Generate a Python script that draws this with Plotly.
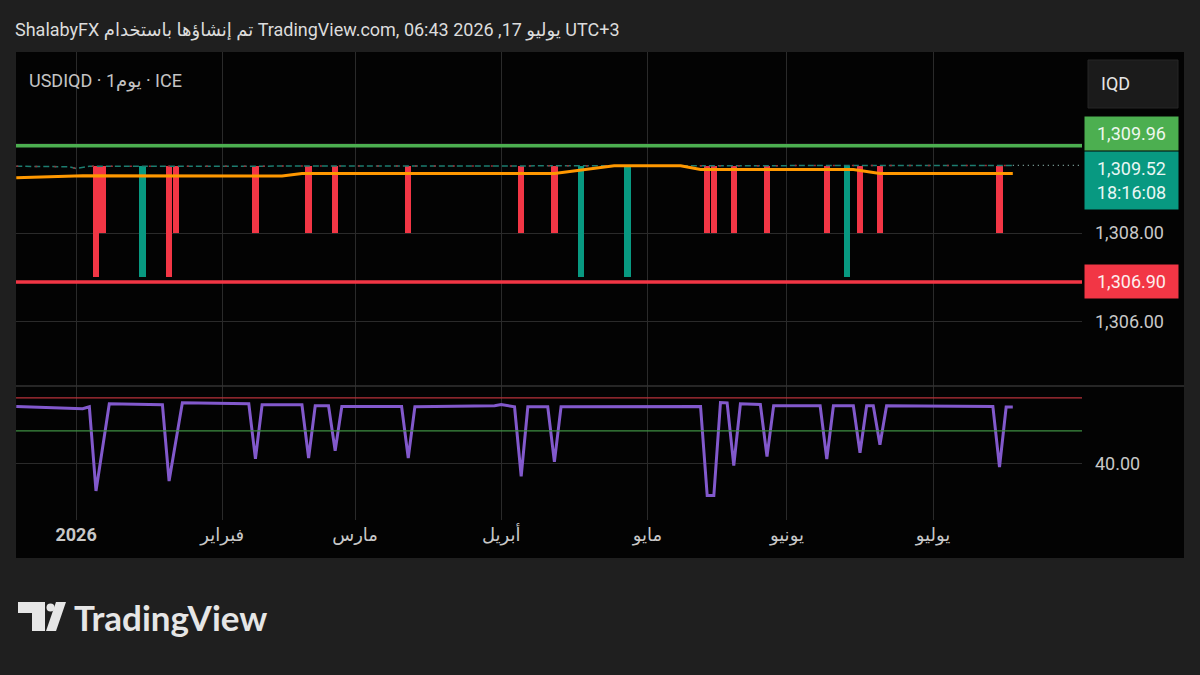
import pandas as pd
import plotly.graph_objects as go
from plotly.subplots import make_subplots

# ---- values ----
# candles that broke away from the ~1309.5 line
spike_dates = ["2026-01-06", "2026-01-07", "2026-01-15", "2026-01-21", "2026-01-22",
               "2026-02-09", "2026-02-19", "2026-02-25", "2026-03-12", "2026-04-06",
               "2026-04-13", "2026-04-17", "2026-04-28", "2026-05-14", "2026-05-15",
               "2026-05-20", "2026-05-27", "2026-06-09", "2026-06-12", "2026-06-16",
               "2026-06-19", "2026-07-15"]
spike_open = [1309.50, 1309.50, 1307.02, 1309.50, 1309.50,
              1309.50, 1309.50, 1309.50, 1309.50, 1309.50,
              1309.50, 1307.02, 1307.02, 1309.50, 1309.50,
              1309.50, 1309.50, 1309.50, 1307.02, 1309.50,
              1309.50, 1309.50]
spike_close = [1307.02, 1308.00, 1309.50, 1307.02, 1308.00,
               1308.00, 1308.00, 1308.00, 1308.00, 1308.00,
               1308.00, 1309.50, 1309.50, 1308.00, 1308.00,
               1308.00, 1308.00, 1308.00, 1309.50, 1308.00,
               1308.00, 1308.00]

# near-flat closes
close_dates = ["2025-12-19", "2025-12-31", "2026-01-01", "2026-01-05", "2026-07-17"]
close_vals = [1309.50, 1309.49, 1309.45, 1309.50, 1309.52]

# orange moving average
ma_dates = ["2025-12-19", "2026-01-02", "2026-02-13", "2026-02-18", "2026-04-13",
            "2026-04-24", "2026-05-08", "2026-05-13", "2026-06-15", "2026-06-19", "2026-07-17"]
ma_vals = [1309.24, 1309.29, 1309.28, 1309.34, 1309.34,
           1309.51, 1309.51, 1309.43, 1309.43, 1309.34, 1309.34]

# purple oscillator (lower pane)
rsi_dates = ["2025-12-19", "2026-01-02", "2026-01-05", "2026-01-06", "2026-01-08",
             "2026-01-20", "2026-01-21", "2026-01-23", "2026-02-06", "2026-02-09",
             "2026-02-10", "2026-02-18", "2026-02-19", "2026-02-20", "2026-02-24",
             "2026-02-25", "2026-02-26", "2026-03-11", "2026-03-12", "2026-03-13",
             "2026-03-31", "2026-04-01", "2026-04-03", "2026-04-06", "2026-04-07",
             "2026-04-10", "2026-04-13", "2026-04-14", "2026-05-13", "2026-05-14",
             "2026-05-15", "2026-05-18", "2026-05-19", "2026-05-20", "2026-05-21",
             "2026-05-26", "2026-05-27", "2026-05-28", "2026-06-08", "2026-06-09",
             "2026-06-10", "2026-06-15", "2026-06-16", "2026-06-17", "2026-06-18",
             "2026-06-19", "2026-06-22", "2026-07-14", "2026-07-15", "2026-07-16",
             "2026-07-17"]
rsi_vals = [57.4, 56.7, 57.3, 31.8, 58.2,
            57.9, 34.8, 58.5, 58.2, 41.5,
            57.9, 57.9, 41.8, 57.6, 57.6,
            44.0, 57.4, 57.4, 41.8, 57.3,
            57.6, 58.0, 57.3, 36.2, 57.3,
            57.3, 40.6, 57.3, 57.4, 30.4,
            30.4, 58.6, 58.5, 39.5, 58.2,
            58.0, 42.2, 57.6, 57.6, 41.5,
            57.6, 57.6, 43.4, 57.6, 57.6,
            45.8, 57.6, 57.4, 39.0, 57.2,
            57.2]

level_vals = [1309.96, 1306.90]
rsi_bands = [60, 50]
price_ticks = [1306, 1308]          # 1310 sits under the green label
price_grid = [1306, 1308, 1310]
month_ticks = ["2026-01-01", "2026-02-02", "2026-03-02", "2026-04-01",
               "2026-05-01", "2026-06-01", "2026-07-01"]
month_labels = ["<b>2026</b>", "فبراير", "مارس", "أبريل", "مايو", "يونيو", "يوليو"]

RED = "#f23645"
TEAL = "#089981"
GREEN = "#4caf50"
FONT = "Roboto, 'DejaVu Sans', sans-serif"
GRID = "#2a2a2a"

# plot area in pixels: x 16..1082, y 52..520
L, R, T, B = 16, 1082, 52, 520


def px(x):
    return (x - L) / (R - L)


def py(y):
    return (B - y) / (B - T)


def noon(d):
    # bars centred on the day so weekend breaks don't clip them
    return pd.to_datetime(pd.Series(d)) + pd.Timedelta(hours=12)


x_start = pd.Timestamp("2025-12-19 11:00")
x_end = pd.Timestamp("2026-07-31 22:00")

fig = make_subplots(rows=2, cols=1, shared_xaxes=True, vertical_spacing=0,
                    row_heights=[1 - py(386), py(386)])

spike_colors = [RED if c < o else TEAL for o, c in zip(spike_open, spike_close)]

fig.add_trace(go.Scatter(x=noon(close_dates), y=close_vals, mode="lines",
                         line=dict(color="#1d7d70", width=1.5, dash="6px,3px")), row=1, col=1)
fig.add_trace(go.Scatter(x=noon(close_dates), y=close_vals, mode="lines",
                         line=dict(color="#9c3038", width=1.5, dash="2px,17px")), row=1, col=1)
fig.add_trace(go.Scatter(x=noon(ma_dates), y=ma_vals, mode="lines",
                         line=dict(color="#ff9800", width=3)), row=1, col=1)
fig.add_trace(go.Bar(x=noon(spike_dates), base=spike_open,
                     y=[c - o for o, c in zip(spike_open, spike_close)],
                     width=0.95 * 86400000, marker=dict(color=spike_colors, line_width=0)),
              row=1, col=1)
fig.add_trace(go.Scatter(x=noon(rsi_dates), y=rsi_vals, mode="lines",
                         line=dict(color="#8259cc", width=3)), row=2, col=1)

# black chart panel behind everything
fig.add_shape(type="rect", xref="paper", yref="paper", x0=px(16), x1=px(1184),
              y0=py(558), y1=py(52), fillcolor="#030303", line_width=0, layer="below")
# pane separator
fig.add_shape(type="line", xref="paper", yref="paper", x0=px(16), x1=px(1184),
              y0=py(386), y1=py(386), line=dict(color="#333333", width=1.5))

# gridline at 1310 (label hidden in the original)
for g in price_grid:
    if g not in price_ticks:
        fig.add_shape(type="line", xref="paper", yref="y", x0=0, x1=1, y0=g, y1=g,
                      line=dict(color=GRID, width=1), layer="below")

# horizontal levels
for lv, col in zip(level_vals, [GREEN, RED]):
    fig.add_shape(type="line", xref="paper", yref="y", x0=0, x1=1, y0=lv, y1=lv,
                  line=dict(color=col, width=3.5))
for bv, col in zip(rsi_bands, ["#b8323b", "#3f8f43"]):
    fig.add_shape(type="line", xref="paper", yref="y2", x0=0, x1=1, y0=bv, y1=bv,
                  line=dict(color=col, width=1.3))

# dotted price line from last bar to the scale
fig.add_shape(type="line", xref="x", yref="y", x0=noon(close_dates).iloc[-1], x1=x_end,
              y0=close_vals[-1], y1=close_vals[-1],
              line=dict(color="#8fb7b1", width=1.2, dash="1px,4px"))

# price scale labels
box_w = 91
fig.add_annotation(xref="paper", yref="y", x=px(1084), y=level_vals[0], xanchor="left",
                   yanchor="middle", yshift=12, text=f"{level_vals[0]:,.2f}", width=box_w,
                   height=31, bgcolor=GREEN, font=dict(family=FONT, size=18, color="#eef7ee"),
                   showarrow=False)
fig.add_annotation(xref="paper", yref="y", x=px(1084), y=close_vals[-1], xanchor="left",
                   yanchor="middle", yshift=-15,
                   text=f"{close_vals[-1]:,.2f}<br>18:16:08", width=box_w, height=55,
                   bgcolor=TEAL, font=dict(family=FONT, size=18, color="#e9f7f4"),
                   showarrow=False)
fig.add_annotation(xref="paper", yref="y", x=px(1084), y=level_vals[1], xanchor="left",
                   yanchor="middle", text=f"{level_vals[1]:,.2f}", width=box_w, height=31,
                   bgcolor=RED, font=dict(family=FONT, size=18, color="#fdeeee"),
                   showarrow=False)

# currency button
fig.add_shape(type="rect", xref="paper", yref="paper", x0=px(1088), x1=px(1178),
              y0=py(108), y1=py(60), fillcolor="#1b1b1b", line=dict(color="#262626", width=1))
fig.add_annotation(xref="paper", yref="paper", x=px(1099), y=py(83), xanchor="left",
                   yanchor="middle", text="IQD", showarrow=False,
                   font=dict(family=FONT, size=18, color="#e6e6e6"))

# header and symbol title
fig.add_annotation(xref="paper", yref="paper", x=px(13), y=py(30), xanchor="left",
                   yanchor="middle", showarrow=False,
                   text="ShalabyFX تم إنشاؤها باستخدام TradingView.com, 06:43 2026 ,17 يوليو UTC+3",
                   font=dict(family=FONT, size=18, color="#dcdcdc"))
fig.add_annotation(xref="paper", yref="paper", x=px(27), y=py(81), xanchor="left",
                   yanchor="middle", showarrow=False, text="USDIQD · 1يوم · ICE",
                   font=dict(family=FONT, size=18, color="#c4c4c4"))

# TradingView logo
fig.add_shape(type="path", xref="paper", yref="paper", fillcolor="#e6e6e6", line_width=0,
              path=f"M {px(18)},{py(602)} L {px(45)},{py(602)} L {px(45)},{py(631)} "
                   f"L {px(32)},{py(631)} L {px(32)},{py(613)} L {px(18)},{py(613)} Z")
fig.add_shape(type="circle", xref="paper", yref="paper", fillcolor="#e6e6e6", line_width=0,
              x0=px(46.5), x1=px(54.5), y0=py(611.5), y1=py(603.5))
fig.add_shape(type="path", xref="paper", yref="paper", fillcolor="#e6e6e6", line_width=0,
              path=f"M {px(46)},{py(631)} L {px(56)},{py(631)} L {px(66)},{py(602)} "
                   f"L {px(56)},{py(602)} Z")
fig.add_annotation(xref="paper", yref="paper", x=px(72), y=py(617), xanchor="left",
                   yanchor="middle", showarrow=False, text="TradingView",
                   font=dict(family="Lato, 'Open Sans', sans-serif", size=35, weight=700,
                             color="#e6e6e6"))

fig.update_xaxes(range=[x_start, x_end], rangebreaks=[dict(bounds=["sat", "mon"])],
                 tickvals=noon(month_ticks), ticktext=month_labels, showgrid=True,
                 gridcolor=GRID, gridwidth=1, zeroline=False, showline=False, ticks="",
                 tickfont=dict(family=FONT, size=18, color="#c8c8c8"))
fig.update_xaxes(showticklabels=False, row=1, col=1)
fig.update_xaxes(showticklabels=True, ticklabelstandoff=2, row=2, col=1)

fig.update_yaxes(side="right", showgrid=True, gridcolor=GRID, gridwidth=1, zeroline=False,
                 showline=False, ticks="", ticklabelstandoff=12,
                 tickfont=dict(family=FONT, size=18, color="#c8c8c8"))
fig.update_yaxes(range=[1304.56, 1312.07], tickvals=price_ticks, tickformat=",.2f",
                 row=1, col=1)
fig.update_yaxes(range=[23.0, 63.6], tickvals=[40], tickformat=".2f", row=2, col=1)

fig.update_layout(width=1200, height=675, margin=dict(l=L, r=1200 - R, t=T, b=675 - B),
                  paper_bgcolor="#1f1f1f", plot_bgcolor="#030303", showlegend=False,
                  bargap=0, hovermode=False)

# the page's default 8px body margin would shift the whole picture
fig.write_html("out.html", config={"displayModeBar": False},
               post_script="document.body.style.margin='0';"
                           "document.body.style.background='#1f1f1f';")
